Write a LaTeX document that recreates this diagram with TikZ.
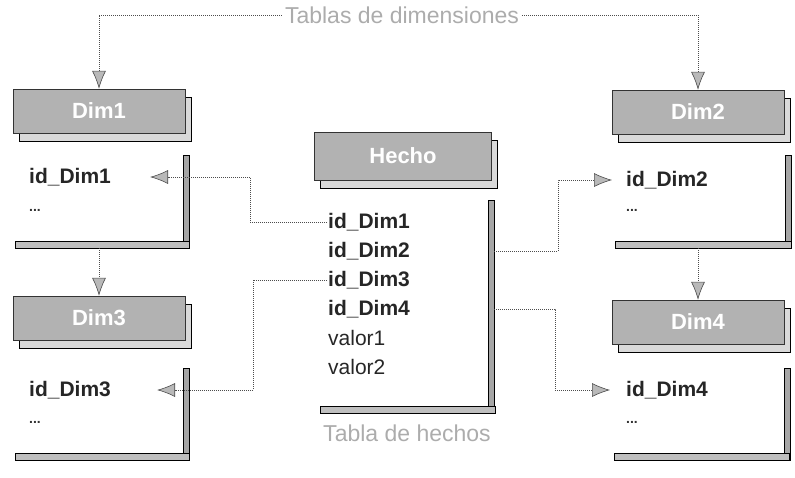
\documentclass[tikz,border=0pt]{standalone}
\usepackage{fontspec}
\setmainfont{Liberation Sans}
\usetikzlibrary{arrows.meta, shadows}

\tikzset{
	tabhead/.style = {draw = gray!40!black, fill = gray!60, text = white, font = \bfseries\fontsize{22}{22}\selectfont,
		minimum width = 172pt, minimum height = 44pt, inner sep = 0pt,
		drop shadow = {shadow xshift = 6pt, shadow yshift = -8pt, fill = gray!30, draw = black, line width = 0.8pt, opacity = 1}},
	key/.style = {anchor = west, inner sep = 1pt, text = black!85, font = \bfseries\fontsize{21}{21}\selectfont},
	attr/.style = {anchor = west, inner sep = 1pt, text = black!85, font = \fontsize{21}{21}\selectfont},
	more/.style = {anchor = west, inner sep = 1pt, text = black!80, font = \bfseries\fontsize{14}{14}\selectfont},
	vbar/.style = {draw = black, fill = gray!70, minimum width = 6pt, inner sep = 0pt},
	hbar/.style = {draw = black, fill = gray!50, minimum height = 7pt, inner sep = 0pt},
	caption/.style = {text = gray!65, inner sep = 3pt, font = \fontsize{23}{23}\selectfont},
	link/.style = {densely dotted, gray!60!black, line width = 1pt,
		-{Latex[length = 18pt, width = 14pt, fill = gray!55, color = gray!60!black, line width = 0.6pt]}}
}

\begin{document}
\begin{tikzpicture}[x = 1pt, y = -1pt]

	\useasboundingbox (0, 0) rectangle (795, 477);

	% tablas de dimensiones
	\node[tabhead] (dim1) at (99, 111) {Dim1};
	\node[key] (k1) at (28, 177) {id\_Dim1};
	\node[more] (m1) at (28, 210) {...};
	\node[vbar, minimum height = 93pt] (b1r) at (186, 201.5) {};
	\node[hbar, minimum width = 174pt] (b1b) at (102, 244.5) {};

	\node[tabhead] (dim3) at (99, 318) {Dim3};
	\node[key] (k3) at (28, 390) {id\_Dim3};
	\node[more] (m3) at (28, 422) {...};
	\node[vbar, minimum height = 92pt] (b3r) at (186, 414) {};
	\node[hbar, minimum width = 174pt] (b3b) at (102, 456.5) {};

	\node[tabhead] (dim2) at (698, 112) {Dim2};
	\node[key] (k2) at (625, 180) {id\_Dim2};
	\node[more] (m2) at (625, 210) {...};
	\node[vbar, minimum height = 93pt] (b2r) at (788, 201.5) {};
	\node[hbar, minimum width = 176pt] (b2b) at (703, 244.5) {};

	\node[tabhead] (dim4) at (698, 322) {Dim4};
	\node[key] (k4) at (625, 390) {id\_Dim4};
	\node[more] (m4) at (625, 422) {...};
	\node[vbar, minimum height = 92pt] (b4r) at (787, 414) {};
	\node[hbar, minimum width = 175pt] (b4b) at (702, 456.5) {};

	% tabla de hechos
	\node[tabhead, minimum width = 177pt, minimum height = 48pt] (hecho) at (403, 156) {Hecho};
	\node[key] (f1) at (327, 222) {id\_Dim1};
	\node[key] (f2) at (327, 251) {id\_Dim2};
	\node[key] (f3) at (327, 280) {id\_Dim3};
	\node[key] (f4) at (327, 309) {id\_Dim4};
	\node[attr] (v1) at (327, 338) {valor1};
	\node[attr] (v2) at (327, 367) {valor2};
	\node[vbar, minimum height = 213pt] (fbar) at (491, 306.5) {};
	\node[hbar, minimum width = 175pt] (fbot) at (407.5, 410) {};

	\node[caption] (thechos) at (407, 433) {Tabla de hechos};
	\node[caption] (tdim) at (402, 15) {Tablas de dimensiones};

	% conexiones
	\draw[link] (tdim.west) -| (dim1.north);
	\draw[link] (tdim.east) -| (dim2.north);
	\draw[link] (b1b.south -| dim1.south) -- (dim3.north);
	\draw[link] (b2b.south -| dim2.south) -- (dim4.north);

	\draw[link] (f1.west) -- ++(-77, 0) |- ([xshift = 38pt]k1.east);
	\draw[link] (f3.west) -- ++(-74, 0) |- ([xshift = 45pt]k3.east);
	\draw[link] (f2 -| fbar.east) -- ++(64, 0) |- ([xshift = -13pt]k2.west);
	\draw[link] (f4 -| fbar.east) -- ++(61, 0) |- ([xshift = -15pt]k4.west);

\end{tikzpicture}
\end{document}
